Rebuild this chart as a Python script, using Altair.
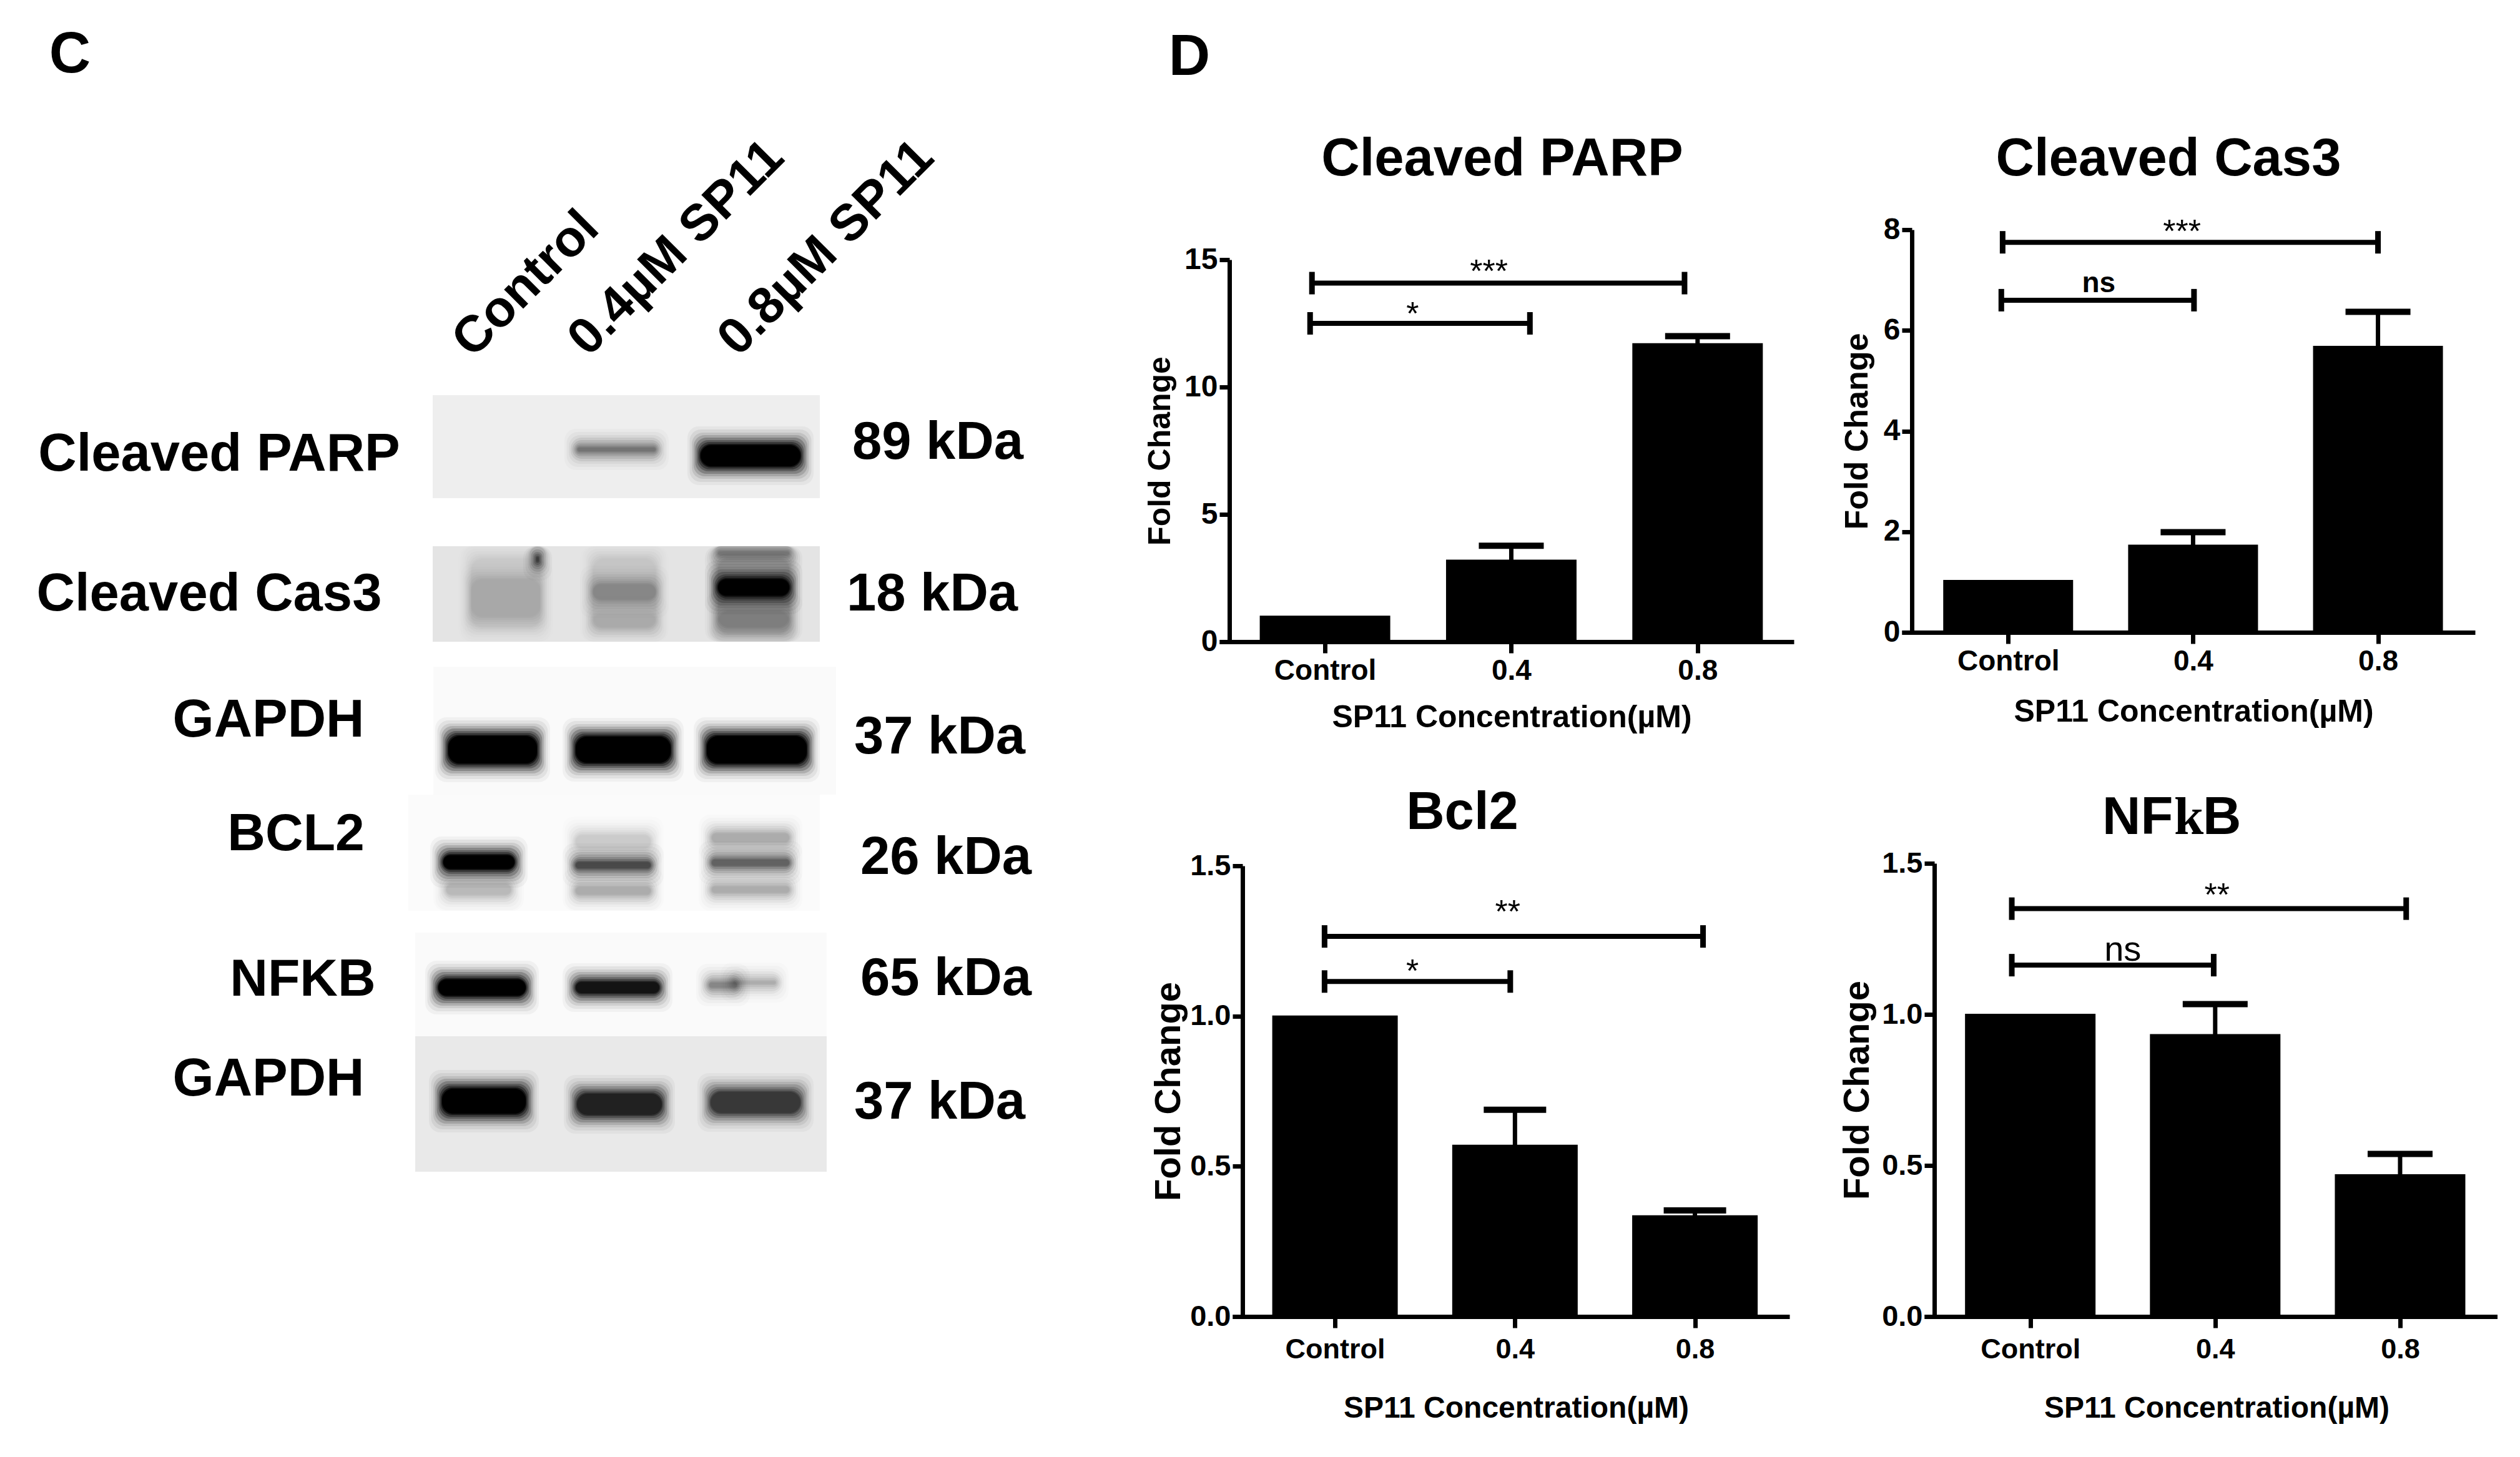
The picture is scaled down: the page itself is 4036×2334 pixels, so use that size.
import altair as alt
import pandas as pd

FONT = "Liberation Sans"
CATEGORIES = ["Control", "0.4", "0.8"]
POSITIONS = [0, 1, 2]

parp_values = [1.0, 3.2, 11.7]
parp_caps = [1.0, 3.77, 12.0]
parp_brackets = [(-0.07, 1.93, 14.08), (-0.08, 1.10, 12.5)]
parp_marks = [("***", 0.88, 14.12, "normal", 52), ("*", 0.47, 12.45, "normal", 52)]

cas3_values = [1.03, 1.73, 5.68]
cas3_caps = [1.03, 1.99, 6.37]
cas3_brackets = [(-0.03, 2.0, 7.75), (-0.037, 1.005, 6.6)]
cas3_marks = [("***", 0.94, 7.75, "normal", 52), ("ns", 0.49, 6.76, "bold", 46)]

bcl2_values = [1.0, 0.57, 0.335]
bcl2_caps = [1.0, 0.688, 0.353]
bcl2_brackets = [(-0.058, 2.045, 1.265), (-0.058, 0.974, 1.115)]
bcl2_marks = [("**", 0.96, 1.31, "normal", 52), ("*", 0.43, 1.114, "normal", 52)]

nfkb_values = [1.0, 0.933, 0.469]
nfkb_caps = [1.0, 1.034, 0.538]
nfkb_brackets = [(-0.10, 2.033, 1.35), (-0.10, 0.992, 1.163)]
nfkb_marks = [("**", 1.01, 1.36, "normal", 52), ("ns", 0.5, 1.178, "normal", 56)]

# blot strips: x0, x1, y0, y1, grey (read in reference pixels)
strips = [
    (693, 1313, 633, 798, "#eeeeee"),
    (693, 1313, 875, 1028, "#e4e4e4"),
    (694, 1339, 1068, 1273, "#fafafa"),
    (654, 1313, 1273, 1459, "#fbfbfb"),
    (665, 1324, 1494, 1660, "#fafafa"),
    (665, 1324, 1660, 1877, "#e9e9e9"),
]
# blot bands: x0, x1, y centre, height, darkness
bands = [
    (925, 1050, 720, 6, 0.5), (1122, 1282, 730, 34, 1.0),
    (755, 865, 950, 110, 0.1), (950, 1050, 950, 110, 0.12), (1150, 1264, 950, 110, 0.25),
    (755, 865, 958, 60, 0.14), (950, 1050, 948, 24, 0.3), (950, 1050, 995, 20, 0.12),
    (1150, 1264, 886, 6, 0.4), (1150, 1264, 941, 26, 1.0), (1150, 1264, 997, 36, 0.22),
    (859, 863, 896, 8, 0.7),
    (718, 860, 1201, 44, 1.0), (922, 1074, 1201, 42, 1.0), (1132, 1292, 1201, 44, 1.0),
    (710, 824, 1381, 22, 1.0), (715, 818, 1425, 16, 0.25),
    (922, 1042, 1386, 10, 0.7), (922, 1042, 1348, 20, 0.18), (922, 1042, 1427, 12, 0.3),
    (1140, 1264, 1382, 10, 0.6), (1140, 1264, 1342, 14, 0.3), (1140, 1264, 1425, 10, 0.3),
    (702, 842, 1582, 26, 1.0), (922, 1056, 1582, 18, 0.92),
    (1136, 1180, 1578, 8, 0.45), (1175, 1242, 1574, 4, 0.3),
    (708, 842, 1764, 40, 1.0), (924, 1060, 1769, 34, 0.85), (1138, 1282, 1766, 34, 0.75),
]
# left panel text: label, x, y, size
labels = [
    ("C", 112, 88, 92), ("D", 1905, 92, 92),
    ("Cleaved PARP", 351, 728, 85), ("Cleaved Cas3", 335, 952, 85),
    ("GAPDH", 430, 1154, 85), ("BCL2", 474, 1337, 84), ("NFKB", 485, 1570, 84), ("GAPDH", 430, 1729, 85),
    ("89 kDa", 1502, 709, 85), ("18 kDa", 1493, 952, 85), ("37 kDa", 1505, 1181, 85),
    ("26 kDa", 1515, 1374, 85), ("65 kDa", 1515, 1568, 85), ("37 kDa", 1505, 1766, 85),
]
lane_labels = [("Control", 842, 455), ("0.4µM SP11", 1083, 397), ("0.8µM SP11", 1323, 397)]

halo_pad = [30, 25, 20, 16, 12, 8, 5, 2, 0]
halo_ramp = [0.04, 0.1, 0.18, 0.3, 0.45, 0.6, 0.75, 0.9, 1.0]

COL_X = 1953
LEFT_W, TOTAL_H = COL_X - 8, 2318
xs = alt.Scale(domain=[8, 8 + LEFT_W], nice=False, zero=False)
ys = alt.Scale(domain=[8 + TOTAL_H, 8], nice=False, zero=False)

strip_df = pd.DataFrame(strips, columns=["x0", "x1", "y0", "y1", "grey"])
band_rows = []
for x0, x1, yc, h, dark in bands:
    host = next(s for s in strips if s[2] <= yc <= s[3])
    prev = 0.0
    for pad, r in zip(halo_pad, halo_ramp):
        now = dark * r
        a = 1 - (1 - now) / (1 - prev) if prev < 1 else 1
        prev = now
        band_rows.append(dict(x0=max(x0 - pad * 0.7, host[0]), x1=min(x1 + pad * 0.7, host[1]),
                              y0=max(yc - h / 2 - pad, host[2]), y1=min(yc + h / 2 + pad, host[3]), op=a))
band_df = pd.DataFrame(band_rows)

strip_layer = alt.Chart(strip_df).mark_rect().encode(
    x=alt.X("x0:Q", scale=xs, axis=None), x2="x1:Q",
    y=alt.Y("y0:Q", scale=ys, axis=None), y2="y1:Q",
    color=alt.Color("grey:N", scale=None))
band_layer = alt.Chart(band_df).mark_rect(cornerRadius=18, color="black").encode(
    x=alt.X("x0:Q", scale=xs, axis=None), x2="x1:Q",
    y=alt.Y("y0:Q", scale=ys, axis=None), y2="y1:Q",
    opacity=alt.Opacity("op:Q", scale=None))
label_layer = alt.Chart(pd.DataFrame(labels, columns=["t", "x", "y", "s"])).mark_text(
    font=FONT, fontWeight="bold", color="black", align="center", baseline="middle").encode(
    x=alt.X("x:Q", scale=xs, axis=None), y=alt.Y("y:Q", scale=ys, axis=None),
    text="t:N", size=alt.Size("s:Q", scale=None))
lane_layer = alt.Chart(pd.DataFrame(lane_labels, columns=["t", "x", "y"])).mark_text(
    font=FONT, fontWeight="bold", color="black", align="center", baseline="middle",
    angle=315, fontSize=82).encode(
    x=alt.X("x:Q", scale=xs, axis=None), y=alt.Y("y:Q", scale=ys, axis=None), text="t:N")
left = alt.layer(strip_layer, band_layer, label_layer, lane_layer).properties(width=LEFT_W, height=TOTAL_H)


def panel(values, caps, brackets, marks, w, h, xdom, ymax, yvals, yfmt, bar_w, cap_w, title, title_dx,
          tick_font, label_pad, xt_x, xt_y, yt_x, yt_size, xt_size):
    df = pd.DataFrame(dict(p=POSITIONS, v=values, c=caps))
    xsc = alt.Scale(domain=xdom, nice=False, zero=False)
    ysc = alt.Scale(domain=[0, ymax], nice=False)
    expr = "[" + ",".join(f"'{c}'" for c in CATEGORIES) + "][datum.value]"
    xaxis = alt.Axis(values=POSITIONS, labelExpr=expr, grid=False, domainColor="black", domainWidth=7,
                     tickColor="black", tickWidth=7, tickSize=18, labelFont=FONT, labelFontWeight="bold",
                     labelFontSize=tick_font, labelColor="black", labelPadding=label_pad, labelAngle=0,
                     title="SP11 Concentration(µM)", titleFont=FONT, titleFontWeight="bold",
                     titleFontSize=xt_size, titleColor="black", titleX=xt_x, titleY=xt_y,
                     titleBaseline="middle", titleAlign="center", labelFlush=False, labelOverlap=False)
    yaxis = alt.Axis(values=yvals, format=yfmt, grid=False, domainColor="black", domainWidth=7,
                     tickColor="black", tickWidth=7, tickSize=16, offset=-16, labelFont=FONT,
                     labelFontWeight="bold", labelFontSize=tick_font + 2, labelColor="black", labelPadding=3,
                     labelFlush=False, labelOverlap=False, title="Fold Change", titleFont=FONT,
                     titleFontWeight="bold", titleFontSize=yt_size, titleColor="black", titleX=yt_x,
                     titleY=h / 2, titleAngle=270, titleBaseline="middle", titleAlign="center")
    x_enc = alt.X("p:Q", scale=xsc, axis=xaxis)
    y_enc = alt.Y("v:Q", scale=ysc, axis=yaxis)
    bars = alt.Chart(df).mark_bar(color="black", size=bar_w, stroke="black", strokeWidth=2).encode(
        x=x_enc, y=y_enc, y2=alt.Y2(datum=0))
    stem = alt.Chart(df).mark_rule(color="black", strokeWidth=7).encode(
        x=alt.X("p:Q", scale=xsc), y=alt.Y("v:Q", scale=ysc), y2="c:Q")
    cap = alt.Chart(df[df.c > df.v]).mark_tick(color="black", orient="horizontal", size=cap_w, thickness=10, opacity=1).encode(
        x=alt.X("p:Q", scale=xsc), y=alt.Y("c:Q", scale=ysc))
    bdf = pd.DataFrame(brackets, columns=["a", "b", "y"])
    br = alt.Chart(bdf).mark_rule(color="black", strokeWidth=8).encode(
        x=alt.X("a:Q", scale=xsc), x2="b:Q", y=alt.Y("y:Q", scale=ysc))
    ends = pd.concat([bdf[["a", "y"]].rename(columns={"a": "e"}), bdf[["b", "y"]].rename(columns={"b": "e"})])
    br_e = alt.Chart(ends).mark_tick(color="black", orient="vertical", size=36, thickness=9, opacity=1).encode(
        x=alt.X("e:Q", scale=xsc), y=alt.Y("y:Q", scale=ysc))
    layers = [bars, stem, cap, br, br_e]
    for t, mx, my, weight, size in marks:
        layers.append(alt.Chart(pd.DataFrame(dict(t=[t], x=[mx], y=[my]))).mark_text(
            font=FONT, fontWeight=weight, fontSize=size, color="black", align="center",
            baseline="alphabetic").encode(
            x=alt.X("x:Q", scale=xsc), y=alt.Y("y:Q", scale=ysc), text="t:N"))
    chart = alt.layer(*layers).properties(width=w, height=h)
    if title:
        top_gap, lift = {"Cleaved PARP": (139, 113), "Cleaved Cas3": (91, 113), "Bcl2": (60, 110)}[title]
        chart = chart.properties(title=alt.TitleParams(
            title, font=FONT, fontWeight="bold", fontSize=85, color="black", anchor="middle",
            dx=title_dx, dy=lift, offset=top_gap, baseline="alphabetic"))
    return chart


def title_part(text, px, font, size=85):
    return alt.Chart(pd.DataFrame(dict(t=[text]))).mark_text(
        font=font, fontWeight="bold", fontSize=size, color="black", align="left", baseline="alphabetic"
    ).encode(x=alt.value(px), y=alt.value(-47), text="t:N")


def spacer(w, h):
    return alt.Chart(pd.DataFrame(dict(a=[0]))).mark_point(opacity=0).encode(
        x=alt.value(0)).properties(width=w, height=h)


p_parp = panel(parp_values, parp_caps, parp_brackets, parp_marks, 920, 612, [-0.55, 2.50], 15, [0, 5, 10, 15], "d",
               207, 104, "Cleaved PARP", -7, 46, 6, 468, 121, -111, 50, 50)
p_cas3 = panel(cas3_values, cas3_caps, cas3_brackets, cas3_marks, 918, 645, [-0.558, 2.508], 8, [0, 2, 4, 6, 8], "d",
               206, 104, "Cleaved Cas3", -32, 46, 6, 467, 127, -88, 52, 50)
p_bcl2 = panel(bcl2_values, bcl2_caps, bcl2_brackets, bcl2_marks, 892, 722, [-0.552, 2.508], 1.5, [0, 0.5, 1, 1.5], ".1f",
               199, 100, "Bcl2", -78, 45, 12, 454, 147, -118, 58, 48)
p_nfkb = panel(nfkb_values, nfkb_caps, nfkb_brackets, nfkb_marks, 918, 726, [-0.556, 2.51], 1.5, [0, 0.5, 1, 1.5], ".1f",
               207, 104, None, 0, 45, 12, 468, 147, -123, 58, 48)
p_nfkb = alt.layer(p_nfkb, title_part("NF", 285, FONT), title_part("k", 400, "Liberation Serif"), title_part("B", 446, FONT))

col1 = alt.vconcat(
    spacer(10, 408),
    p_parp,
    spacer(10, 359),
    alt.hconcat(spacer(21, 10), p_bcl2, spacing=0, bounds="flush"),
    spacing=0, bounds="flush")
col2 = alt.vconcat(
    spacer(10, 360),
    p_cas3,
    spacer(10, 370),
    alt.hconcat(spacer(36, 10), p_nfkb, spacing=0, bounds="flush"),
    spacing=0, bounds="flush")

chart = alt.hconcat(left, col1, spacer(1093, 10), col2, spacing=0, bounds="flush").properties(
    padding=0, background="white"
).configure_view(stroke=None)

chart.save("out.html", embed_options={"renderer": "svg", "actions": False})
